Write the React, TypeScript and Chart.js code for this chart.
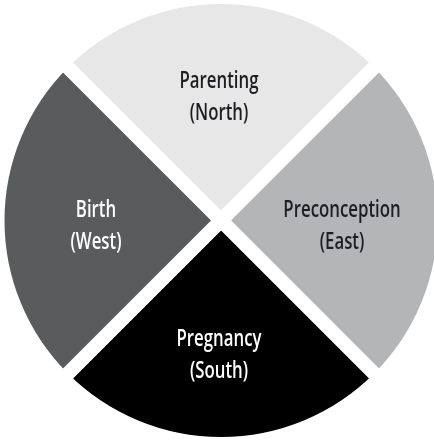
import { useEffect, useRef } from "react";
import { Chart, registerables } from "chart.js";

Chart.register(...registerables);

const categories = ["Parenting", "Preconception", "Pregnancy", "Birth"];
const directions = ["(North)", "(East)", "(South)", "(West)"];
const values = [25, 25, 25, 25];
const sliceColors = ["#e7e7e8", "#b4b5b7", "#000000", "#5a5b5d"];
const labelColors = ["#1e1e22", "#1e1e22", "#ffffff", "#ffffff"];

const labelPlugin = {
  id: "sliceLabels",
  afterDatasetsDraw(chart: any) {
    const ctx = chart.ctx as CanvasRenderingContext2D;
    const meta = chart.getDatasetMeta(0);
    const RX = 123;
    const RY = 129;
    const OX = -2;
    const OY = 6;
    const SX = 0.7;
    const LINE = 32;
    meta.data.forEach((arc: any, i: number) => {
      const p = arc.getProps(["x", "y", "startAngle", "endAngle"], true);
      const mid = (p.startAngle + p.endAngle) / 2;
      const cx = p.x + Math.cos(mid) * RX + OX;
      const cy = p.y + Math.sin(mid) * RY + OY;
      const lines = [categories[i], directions[i]];
      ctx.save();
      ctx.fillStyle = labelColors[i];
      ctx.font = "600 24px 'Open Sans', 'Noto Sans', sans-serif";
      ctx.textAlign = "center";
      ctx.textBaseline = "middle";
      lines.forEach((t, j) => {
        ctx.save();
        ctx.translate(cx, cy + (j - 0.5) * LINE);
        ctx.scale(SX, 1);
        ctx.fillText(t, 0, 0);
        ctx.restore();
      });
      ctx.restore();
    });
  },
};

export default function App() {
  const ref = useRef<HTMLCanvasElement | null>(null);
  useEffect(() => {
    if (!ref.current) return;
    const chart = new Chart(ref.current, {
      type: "pie",
      data: {
        labels: categories,
        datasets: [
          {
            data: values,
            backgroundColor: sliceColors,
            borderColor: "#ffffff",
            borderWidth: 14,
            hoverBorderWidth: 14,
            clip: false as any,
          },
        ],
      },
      options: {
        responsive: false,
        animation: false,
        events: [],
        rotation: -45,
        radius: 223.5,
        layout: { padding: { left: 8, top: 1, right: 0, bottom: 0 } },
        plugins: {
          legend: { display: false },
          tooltip: { enabled: false },
        },
      } as any,
      plugins: [labelPlugin],
    });
    return () => chart.destroy();
  }, []);
  return (
    <canvas
      ref={ref}
      width={434}
      height={440}
      style={{ position: "fixed", left: 0, top: 0, width: 434, height: 440, background: "#ffffff" }}
    />
  );
}
